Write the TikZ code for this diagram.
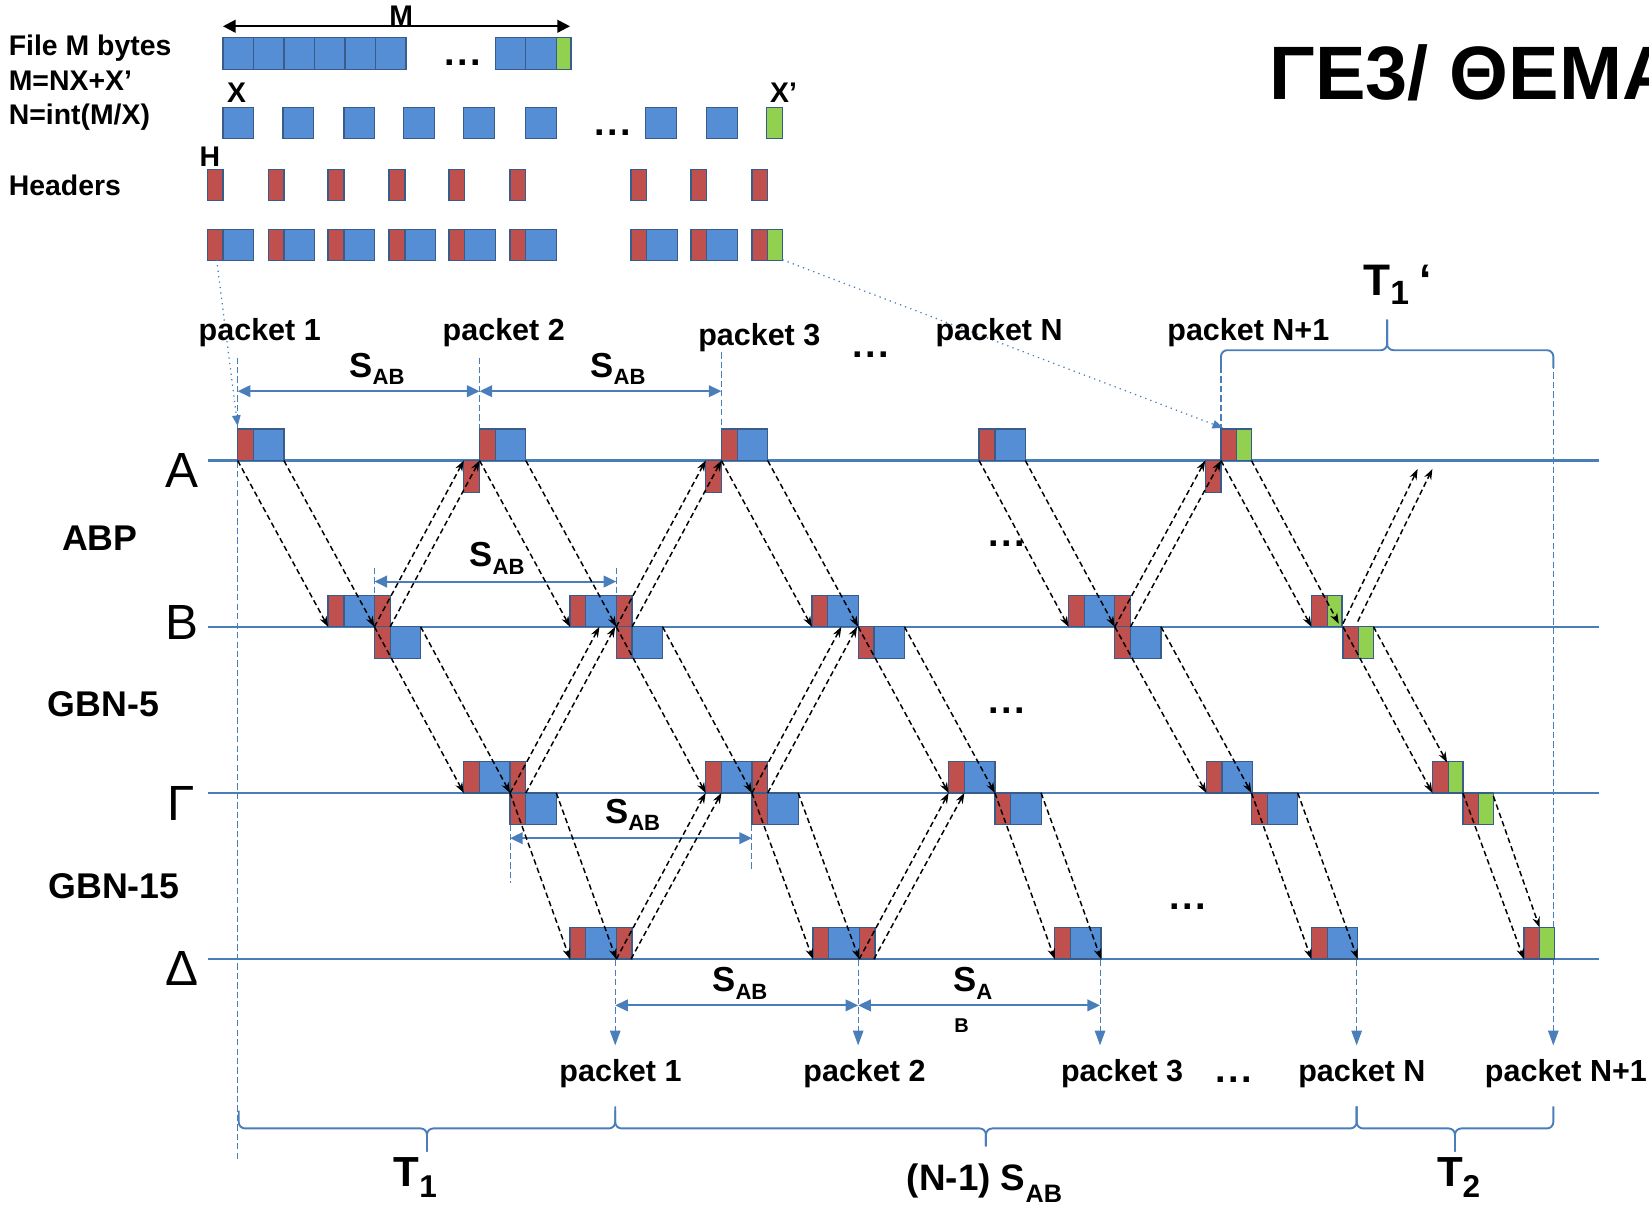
\documentclass[tikz,border=0pt]{standalone}
\usepackage{fontspec}
\setmainfont{Liberation Sans}
\usetikzlibrary{arrows.meta}

\definecolor{hdrred}{HTML}{C0504D}
\definecolor{datblue}{HTML}{558ED5}
\definecolor{tailgreen}{HTML}{92D050}
\definecolor{boxedge}{HTML}{385D8A}
\definecolor{guide}{HTML}{4A7EBB}

\tikzset{
  hdr/.style={fill=hdrred, draw=boxedge, line width=0.6pt},
  dat/.style={fill=datblue, draw=boxedge, line width=0.6pt},
  tail/.style={fill=tailgreen, draw=boxedge, line width=0.6pt},
  lane/.style={draw=guide, line width=1.1pt},
  msg/.style={draw=black, line width=0.7pt, dash pattern=on 2.6pt off 1.6pt,
    -{Stealth[length=5pt,width=3.6pt]}},
  marker/.style={draw=guide, line width=0.5pt, dash pattern=on 3pt off 1.5pt},
  markerarrow/.style={marker, -{Triangle[length=7pt,width=5pt]}},
  span/.style={draw=guide, line width=1pt,
    {Triangle[length=6pt,width=5.5pt]}-{Triangle[length=6pt,width=5.5pt]}},
  pointer/.style={draw=guide, line width=0.6pt, dotted, -{Triangle[length=5pt,width=4pt]}},
  brace/.style={draw=guide, line width=0.9pt, rounded corners=3pt},
  txt/.style={inner sep=0pt, font=\bfseries\fontsize{13.5pt}{16pt}\selectfont},
  pkt/.style={inner sep=0pt, font=\bfseries\fontsize{14.5pt}{17pt}\selectfont},
  proto/.style={inner sep=0pt, font=\bfseries\fontsize{17pt}{20pt}\selectfont},
  station/.style={inner sep=0pt, font=\fontsize{23.5pt}{28pt}\selectfont},
  dots/.style={inner sep=0pt, anchor=base, font=\bfseries\fontsize{18pt}{22pt}\selectfont},
  sub/.style={inner sep=0pt, anchor=base west},
}

% packet cells: x of left edge, y of top edge
\newcommand\Hcell[2]{\path[hdr] (#1,#2) rectangle ++(15,30);}
\newcommand\Dcell[2]{\path[dat] (#1,#2) rectangle ++(29,30);}
\newcommand\Gcell[2]{\path[tail] (#1,#2) rectangle ++(14,30);}
\newcommand\Pcell[2]{\Hcell{#1}{#2}\Dcell{#1+15}{#2}}
\newcommand\Lcell[2]{\Hcell{#1}{#2}\Gcell{#1+15}{#2}}
% S with a subscript
\newcommand\Slabel[1]{{\fontsize{16.5pt}{18pt}\selectfont S}{\fontsize{10.5pt}{12pt}\selectfont\raisebox{-3.5pt}{#1}}}
% spaced ellipsis
\newcommand\Ell{.\hspace{1.2pt}.\hspace{1.2pt}.}
% curly brace: x1, x2, end y, line y, tip y
\newcommand\Brace[5]{%
  \draw[brace] (#1,#3) -- (#1,#4) -- ({(#1+#2)/2},#4) -- ({(#1+#2)/2},#5);
  \draw[brace] ({(#1+#2)/2},#5) -- ({(#1+#2)/2},#4) -- (#2,#4) -- (#2,#3);}

\begin{document}
\begin{tikzpicture}[x=0.5pt,y=-0.5pt]
\useasboundingbox (0,0) rectangle (1568,1149);

% ---------- file split into packets ----------
\foreach \x in {212,241,270,299,328,357,471,500} {\Dcell{\x}{36}}
\Gcell{529}{36}
\draw[draw=black, line width=1pt, {Triangle[length=6pt,width=6pt]}-{Triangle[length=6pt,width=6pt]}] (212,25) -- (542,25);
\foreach \x in {212,269,327,384,441,500,614,672} {\Dcell{\x}{102}}
\path[tail] (729,102) rectangle ++(15,30);
\foreach \x in {197,255,312,370,427,485,600,657,715} {\Hcell{\x}{161}}
\foreach \x in {197,255,312,370,427,485,600,657} {\Pcell{\x}{218}}
\Lcell{715}{218}

\node[txt, anchor=base west] (lfile) at (8,53) {File M bytes};
\node[txt, anchor=base west] (lsum) at (8,86) {M=NX+X’};
\node[txt, anchor=base west] (lnum) at (8,118) {N=int(M/X)};
\node[txt, anchor=base west] (lhdr) at (8,185.5) {Headers};
\node[txt, anchor=base] (lM) at (381.5,24.7) {M};
\node[txt, anchor=base] (lX) at (225,97) {X};
\node[txt, anchor=base] (lXp) at (745,97) {X’};
\node[txt, anchor=base] (lH) at (199.5,158.5) {H};
\node[dots] (d1) at (440,62) {\Ell};
\node[dots] (d2) at (583,128.5) {\Ell};

\node[inner sep=0pt, anchor=base west] (title) at (1207,95)
  {\bfseries\fontsize{36pt}{40pt}\selectfont ΓΕ3/ ΘΕΜΑ};

% ---------- time lines ----------
\foreach \y in {438,596,754,912} {\draw[lane] (198,\y) -- (1520,\y);}

% ---------- guide markers ----------
\draw[marker] (226,340) -- (226,1105);
\draw[marker] (456,340) -- (456,408);
\draw[marker] (686,335) -- (686,408);
\draw[marker] (1161,340) -- (1161,408);
\draw[markerarrow] (1477,345) -- (1477,994);
\draw[marker] (356,540) -- (356,596);
\draw[marker] (586,540) -- (586,596);
\draw[marker] (485,784) -- (485,840);
\draw[marker] (715,784) -- (715,826);
\foreach \x in {585,816,1046,1290} {\draw[markerarrow] (\x,913) -- (\x,994);}

\draw[pointer] (206,247) -- (226,405);
\draw[pointer] (744,247) -- (1163,407);

\draw[span] (226,372) -- (456,372);
\draw[span] (456,372) -- (686,372);
\draw[span] (356,553) -- (586,553);
\draw[span] (485,797) -- (715,797);
\draw[span] (585,956) -- (816,956);
\draw[span] (816,956) -- (1046,956);

\Brace{1161}{1477}{350}{333}{304}
\Brace{227}{585}{1056}{1073}{1095}
\Brace{585}{1290}{1052}{1073}{1090}
\Brace{1290}{1477}{1052}{1073}{1095}

% ---------- packets on the lines ----------
% A
\Pcell{226}{408} \Pcell{456}{408} \Pcell{686}{408} \Pcell{931}{408} \Lcell{1161}{408}
\Hcell{441}{438} \Hcell{671}{438} \Hcell{1146}{438}
% B
\Pcell{312}{566} \Hcell{356}{566} \Pcell{356}{596}
\Pcell{542}{566} \Hcell{586}{566} \Pcell{586}{596}
\Pcell{772}{566} \Pcell{816}{596}
\Pcell{1016}{566} \Hcell{1060}{566} \Pcell{1060}{596}
\Lcell{1247}{566} \Lcell{1277}{596}
% Gamma
\Pcell{441}{724} \Hcell{485}{724} \Pcell{485}{754}
\Pcell{671}{724} \Hcell{715}{724} \Pcell{715}{754}
\Pcell{902}{724} \Pcell{946}{754}
\Pcell{1147}{724} \Pcell{1190}{754}
\Lcell{1362}{724} \Lcell{1391}{754}
% Delta
\Pcell{542}{882} \Hcell{586}{882}
\Pcell{773}{882} \Hcell{817}{882}
\Pcell{1003}{882}
\Pcell{1247}{882}
\Lcell{1449}{882}

% ---------- transmissions ----------
\foreach \a/\b/\c/\d in {
  226/438/312/596, 270/438/356/596, 456/438/542/596, 500/438/586/596,
  686/438/772/596, 730/438/816/596, 931/438/1016/596, 975/438/1060/596,
  1161/438/1247/596, 1190/438/1273/593,
  356/596/441/438, 371/596/456/438, 586/596/671/438, 601/596/686/438,
  1060/596/1146/438, 1075/596/1161/438, 1277/593/1348/446, 1291/591/1362/446,
  356/596/441/754, 400/596/485/754, 586/596/671/754, 630/596/715/754,
  816/596/902/754, 860/596/946/754, 1060/596/1147/754, 1104/596/1190/754,
  1277/596/1362/754, 1306/596/1376/725,
  485/754/570/596, 500/754/585/596, 715/754/800/596, 730/754/815/596,
  485/754/542/912, 529/754/586/912, 715/754/773/912, 759/754/817/912,
  946/754/1003/912, 990/754/1047/912, 1190/754/1247/912, 1234/754/1291/912,
  1391/754/1449/912, 1420/757/1464/882,
  586/912/671/754, 600/912/686/754, 817/912/902/754, 831/912/917/754}
  {\draw[msg] (\a,\b) -- (\c,\d);}

% ---------- labels ----------
\node[station] (sA) at (173,447) {Α};
\node[station] (sB) at (173,592) {Β};
\node[station] (sG) at (172,764) {Γ};
\node[station] (sD) at (173,921) {Δ};
\node[proto] (pABP) at (95,512) {ABP};
\node[proto] (pG5) at (98.5,670) {GBN-5};
\node[proto] (pG15) at (108.5,843) {GBN-15};

\node[pkt] (t1) at (247,316) {packet 1};
\node[pkt] (t2) at (479,316) {packet 2};
\node[pkt] (t3) at (722,321) {packet 3};
\node[dots] (d3) at (828,340) {\Ell};
\node[pkt] (tN) at (950,316) {packet N};
\node[pkt] (tN1) at (1187,316) {packet N+1};

\node[pkt] (b1) at (590,1021) {packet 1};
\node[pkt] (b2) at (822,1021) {packet 2};
\node[pkt] (b3) at (1067,1021) {packet 3};
\node[dots] (d7) at (1173,1029) {\Ell};
\node[pkt] (bN) at (1295,1021) {packet N};
\node[pkt] (bN1) at (1489,1021) {packet N+1};

\node[dots] (d4) at (957,520) {\Ell};
\node[dots] (d5) at (957,678) {\Ell};
\node[dots] (d6) at (1129,865) {\Ell};

\node[sub, font=\bfseries] (s1) at (332,358.5) {\Slabel{AB}};
\node[sub, font=\bfseries] (s2) at (561,358.5) {\Slabel{AB}};
\node[sub, font=\bfseries] (s3) at (446,539) {\Slabel{AB}};
\node[sub, font=\bfseries] (s4) at (575,783) {\Slabel{AB}};
\node[sub, font=\bfseries] (s5) at (677,943) {\Slabel{AB}};
\node[sub, font=\bfseries] (s6) at (906,943) {\Slabel{A}};
\node[sub, font=\bfseries\fontsize{9.5pt}{11pt}\selectfont] (s6b) at (907,981.5) {B};

\node[sub] (tone) at (374,1128.5)
  {\bfseries\fontsize{20pt}{22pt}\selectfont T{\fontsize{15pt}{17pt}\selectfont\raisebox{-5.25pt}{1}}};
\node[sub] (ttwo) at (1366,1128.5)
  {\bfseries\fontsize{20pt}{22pt}\selectfont T{\fontsize{15pt}{17pt}\selectfont\raisebox{-5.25pt}{2}}};
\node[sub] (tmid) at (862,1132)
  {\bfseries\fontsize{17.5pt}{20pt}\selectfont (N-1) S{\fontsize{12pt}{14pt}\selectfont\raisebox{-5.5pt}{AB}}};
\node[sub] (tonep) at (1296,281)
  {\bfseries\fontsize{21pt}{24pt}\selectfont T{\fontsize{16pt}{18pt}\selectfont\raisebox{-4.5pt}{1}}\hspace{5pt}‘};
\end{tikzpicture}
\end{document}
